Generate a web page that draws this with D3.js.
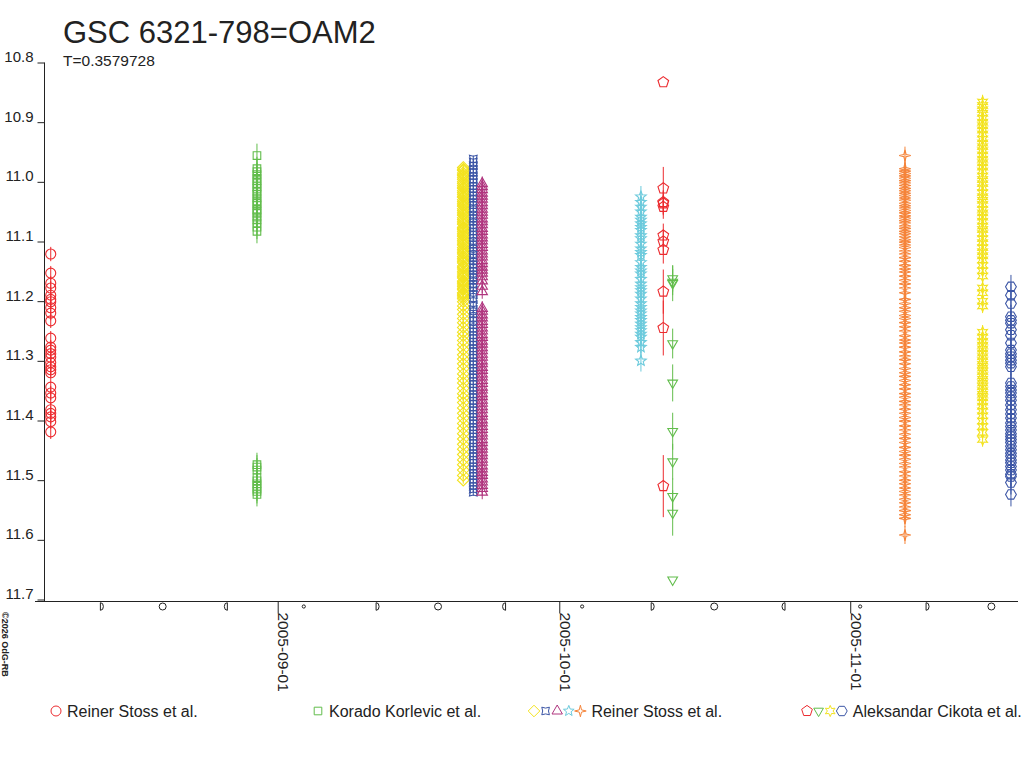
<!DOCTYPE html>
<html>
<head>
<meta charset="utf-8">
<script src="https://cdn.jsdelivr.net/npm/d3@7"></script>
<style>
body { margin: 0; background: #fff; }
text { font-family: "Liberation Sans", Arial, sans-serif; fill: #222; }
</style>
</head>
<body>
<svg width="1024" height="768"></svg>
<script>
// ---- data ----
var yTicks = [10.8, 10.9, 11.0, 11.1, 11.2, 11.3, 11.4, 11.5, 11.6, 11.7];
var xTicks = ["2005-09-01T00:00", "2005-10-01T00:00", "2005-11-01T00:00"];
var xDomain = ["2005-08-07T05:00", "2005-11-18T21:00"];

// moon phases (UT)
var phaseDates = ["2005-08-13T02:38", "2005-08-19T17:53", "2005-08-26T15:18", "2005-09-03T18:45",
    "2005-09-11T11:37", "2005-09-18T02:01", "2005-09-25T06:41", "2005-10-03T10:28",
    "2005-10-10T19:01", "2005-10-17T12:14", "2005-10-25T01:17", "2005-11-02T01:24",
    "2005-11-09T01:57", "2005-11-16T00:57"];
var phaseKinds = ["fq", "full", "lq", "new", "fq", "full", "lq", "new", "fq", "full", "lq", "new", "fq", "full"];

// Reiner Stoss et al. (first night)
var stossAugDate = "2005-08-07T19:40";
var stossAugMag = [11.121, 11.153, 11.170, 11.178, 11.190, 11.197, 11.201, 11.211, 11.220, 11.233,
    11.262, 11.277, 11.282, 11.288, 11.294, 11.303, 11.310, 11.315, 11.320, 11.344, 11.354,
    11.362, 11.382, 11.388, 11.394, 11.402, 11.419];

// Korado Korlevic et al.
var korlevicDate = "2005-08-29T19:00";
var korlevicMag = [10.956, 10.978, 10.983, 10.988, 10.994, 10.998, 11.003, 11.008, 11.011, 11.017,
    11.021, 11.027, 11.032, 11.036, 11.039, 11.046, 11.049, 11.053, 11.059, 11.064, 11.069,
    11.076, 11.083,
    11.474, 11.478, 11.483, 11.496, 11.501, 11.506, 11.510, 11.515, 11.519, 11.524];

// Reiner Stoss et al. (group of nights)
var stossSep20Date = "2005-09-20T18:30";
var stossSep20Mag = [10.976, 10.979, 10.981, 10.985, 10.988, 10.99, 10.993, 10.996, 11.0, 11.003,
    11.006, 11.009, 11.011, 11.015, 11.018, 11.021, 11.024, 11.026, 11.03, 11.033, 11.036, 11.039,
    11.041, 11.045, 11.048, 11.051, 11.054, 11.056, 11.06, 11.063, 11.066, 11.069, 11.071, 11.076,
    11.078, 11.08, 11.083, 11.086, 11.089, 11.091, 11.095, 11.098, 11.101, 11.104, 11.106, 11.11,
    11.113, 11.116, 11.119, 11.121, 11.125, 11.128, 11.131, 11.134, 11.136, 11.141, 11.143, 11.146,
    11.15, 11.153, 11.156, 11.159, 11.161, 11.166, 11.168, 11.17, 11.173, 11.176, 11.179, 11.181,
    11.186, 11.188, 11.19, 11.193, 11.196, 11.201,
    11.208, 11.214, 11.222, 11.229, 11.236, 11.244, 11.252, 11.258, 11.266, 11.273, 11.281, 11.29,
    11.297, 11.305, 11.313, 11.322, 11.33, 11.337, 11.346, 11.355, 11.362, 11.37, 11.379, 11.388,
    11.396, 11.405, 11.413, 11.422, 11.431, 11.44, 11.448, 11.457, 11.466, 11.474, 11.483, 11.492, 11.50];

var stossSep21Date = "2005-09-21T20:10";
var stossSep21Mag = [10.962, 10.967, 10.973, 10.98, 10.984, 10.99, 10.996, 11.001, 11.007, 11.012,
    11.018, 11.023, 11.028, 11.035, 11.039, 11.044, 11.05, 11.057, 11.061, 11.066, 11.073, 11.078,
    11.083, 11.088, 11.094, 11.101, 11.105, 11.11, 11.116, 11.123, 11.127, 11.132, 11.139, 11.144,
    11.149, 11.156, 11.16, 11.165, 11.172, 11.177, 11.182, 11.189, 11.197, 11.206, 11.214, 11.221,
    11.228, 11.233, 11.24, 11.246, 11.251, 11.257, 11.262, 11.268, 11.273, 11.279, 11.284, 11.29,
    11.295, 11.301, 11.306, 11.312, 11.317, 11.323, 11.328, 11.334, 11.339, 11.345, 11.35, 11.356,
    11.361, 11.367, 11.372, 11.378, 11.383, 11.389, 11.394, 11.4, 11.405, 11.411, 11.416, 11.422,
    11.427, 11.433, 11.438, 11.444, 11.449, 11.455, 11.46, 11.466, 11.471, 11.477, 11.482, 11.488,
    11.493, 11.499, 11.504, 11.51, 11.515, 11.52];

var stossSep22Date = "2005-09-22T19:00";
var stossSep22Mag = [11.003, 11.008, 11.013, 11.019, 11.024, 11.029, 11.035, 11.04, 11.046, 11.051,
    11.056, 11.062, 11.067, 11.072, 11.078, 11.083, 11.089, 11.094, 11.099, 11.105, 11.11, 11.116,
    11.121, 11.126, 11.132, 11.137, 11.143, 11.148, 11.153, 11.159, 11.166, 11.175, 11.184,
    11.212, 11.217, 11.223, 11.228, 11.234, 11.239, 11.245, 11.25, 11.256, 11.261, 11.267, 11.272,
    11.278, 11.283, 11.289, 11.294, 11.3, 11.305, 11.311, 11.316, 11.322, 11.327, 11.333, 11.338,
    11.344, 11.349, 11.355, 11.36, 11.366, 11.371, 11.377, 11.382, 11.388, 11.393, 11.399, 11.404,
    11.41, 11.415, 11.421, 11.426, 11.432, 11.437, 11.443, 11.448, 11.454, 11.459, 11.465, 11.47,
    11.476, 11.481, 11.487, 11.492, 11.498, 11.503, 11.509, 11.514, 11.52];

var stossOct09Date = "2005-10-09T16:50";
var stossOct09Mag = [11.025, 11.034, 11.042, 11.05, 11.059, 11.064, 11.07, 11.076, 11.081, 11.09,
    11.095, 11.104, 11.112, 11.118, 11.123, 11.135, 11.143, 11.149, 11.154, 11.163, 11.171, 11.177,
    11.182, 11.188, 11.196, 11.204, 11.21, 11.216, 11.221, 11.227, 11.232, 11.238, 11.244, 11.249,
    11.255, 11.26, 11.269, 11.277, 11.3];

var stossNov06Date = "2005-11-06T20:00";
var stossNov06Mag = [10.956, 10.978, 10.982, 10.986, 10.99, 10.994, 10.998, 11.002, 11.006, 11.011,
    11.015, 11.019, 11.023, 11.027, 11.031, 11.036, 11.04, 11.044, 11.048, 11.052, 11.057, 11.061,
    11.065, 11.069, 11.074, 11.078, 11.083, 11.087, 11.092, 11.097, 11.101, 11.106, 11.11, 11.116,
    11.121, 11.127, 11.133, 11.14, 11.146, 11.151, 11.158, 11.165, 11.171, 11.178, 11.186, 11.197,
    11.204, 11.211, 11.217, 11.224, 11.229, 11.236, 11.243, 11.25, 11.258, 11.265, 11.27, 11.277,
    11.285, 11.292, 11.298, 11.305, 11.313, 11.32, 11.326, 11.333, 11.34, 11.347, 11.355, 11.361,
    11.368, 11.374, 11.381, 11.388, 11.395, 11.401, 11.409, 11.416, 11.423, 11.43, 11.437, 11.445,
    11.452, 11.458, 11.465, 11.472, 11.478, 11.486, 11.493, 11.5, 11.506, 11.513, 11.519, 11.525,
    11.532, 11.538, 11.545, 11.551, 11.558, 11.564, 11.592];

// Aleksandar Cikota et al.
var cikotaOct12Date = "2005-10-12T02:00";
var cikotaOct12Mag = [10.833, 11.011, 11.034, 11.036, 11.042, 11.09, 11.10, 11.114, 11.184, 11.245, 11.51];
var cikotaOct12Err = [0, 0.036, 0.02, 0.02, 0.02, 0.02, 0.02, 0.023, 0.037, 0.046, 0.052];

var cikotaOct13Date = "2005-10-13T02:00";
var cikotaOct13Mag = [11.162, 11.168, 11.17, 11.271, 11.337, 11.418, 11.469, 11.527, 11.555, 11.667];
var cikotaOct13Err = [0.022, 0.022, 0.03, 0.025, 0.031, 0.031, 0.03, 0.03, 0.038, 0];

var cikotaNov15Date = "2005-11-15T02:30";
var cikotaNov15Mag = [10.866, 10.872, 10.879, 10.885, 10.893, 10.9, 10.906, 10.913, 10.92, 10.928,
    10.935, 10.941, 10.948, 10.955, 10.962, 10.968, 10.975, 10.982, 10.99, 10.996, 11.003, 11.01,
    11.018, 11.025, 11.031, 11.038, 11.046, 11.052, 11.059, 11.066, 11.074, 11.08, 11.087, 11.095,
    11.102, 11.11, 11.117, 11.124, 11.131, 11.14, 11.149, 11.158, 11.178, 11.186, 11.2, 11.208,
    11.252, 11.26, 11.267, 11.274, 11.28, 11.287, 11.293, 11.3, 11.306, 11.312, 11.318, 11.325,
    11.331, 11.337, 11.343, 11.35, 11.356, 11.362, 11.369, 11.376, 11.384, 11.392, 11.401, 11.41,
    11.42, 11.432];

var cikotaNov18Date = "2005-11-18T03:00";
var cikotaNov18Mag = [11.176, 11.19, 11.204, 11.226, 11.232, 11.237, 11.248, 11.257, 11.27, 11.282,
    11.288, 11.293, 11.299, 11.304, 11.31, 11.337, 11.343, 11.349, 11.354, 11.36, 11.366, 11.374,
    11.382, 11.389, 11.396, 11.404, 11.41, 11.416, 11.422, 11.427, 11.432, 11.437, 11.443, 11.449,
    11.455, 11.46, 11.466, 11.471, 11.477, 11.483, 11.49, 11.494, 11.504, 11.524];

// ---- colours and marker shapes ----
var red = "#ec2b2f", green = "#62bd4c", yellow = "#f3e31f", blue = "#3c56a6",
    purple = "#b0367f", cyan = "#6ccadc", orange = "#f5843a";

function polygon(n, r, rot) {
    var pts = [];
    for (var i = 0; i < n; i++) {
        var a = rot + i * 2 * Math.PI / n;
        pts.push([(r * Math.sin(a)).toFixed(2), (-r * Math.cos(a)).toFixed(2)]);
    }
    return "M" + pts.join("L") + "Z";
}
function star(n, r1, r2, rot) {
    var pts = [];
    for (var i = 0; i < 2 * n; i++) {
        var a = rot + i * Math.PI / n, r = i % 2 ? r2 : r1;
        pts.push([(r * Math.sin(a)).toFixed(2), (-r * Math.cos(a)).toFixed(2)]);
    }
    return "M" + pts.join("L") + "Z";
}
var shapes = {
    circle: "M5,0A5,5 0 1,1 -5,0A5,5 0 1,1 5,0Z",
    square: "M-3.8,-3.8H3.8V3.8H-3.8Z",
    diamond: polygon(4, 5.8, 0),
    astroid: star(4, 5.4, 2.9, Math.PI / 4),
    triangle: polygon(3, 6, 0),
    star5: star(5, 5.6, 2.4, 0),
    star4: star(4, 5.8, 1.6, 0),
    pentagon: polygon(5, 5.6, 0),
    invtri: polygon(3, 5.6, Math.PI),
    star6: star(6, 5.6, 2.8, 0),
    hexagon: polygon(6, 5.4, Math.PI / 6)
};

var series = [
    {date: stossAugDate, mags: stossAugMag, err: 0.012, color: red, shape: "circle"},
    {date: korlevicDate, mags: korlevicMag, err: 0.02, color: green, shape: "square"},
    {date: stossSep20Date, mags: stossSep20Mag, err: 0.006, color: yellow, shape: "diamond"},
    {date: stossSep21Date, mags: stossSep21Mag, err: 0.006, color: blue, shape: "astroid"},
    {date: stossSep22Date, mags: stossSep22Mag, err: 0.012, color: purple, shape: "triangle"},
    {date: stossOct09Date, mags: stossOct09Mag, err: 0.018, color: cyan, shape: "star5"},
    {date: stossNov06Date, mags: stossNov06Mag, err: 0.015, color: orange, shape: "star4"},
    {date: cikotaOct12Date, mags: cikotaOct12Mag, err: cikotaOct12Err, color: red, shape: "pentagon"},
    {date: cikotaOct13Date, mags: cikotaOct13Mag, err: cikotaOct13Err, color: green, shape: "invtri"},
    {date: cikotaNov15Date, mags: cikotaNov15Mag, err: 0.012, color: yellow, shape: "star6"},
    {date: cikotaNov18Date, mags: cikotaNov18Mag, err: 0.02, color: blue, shape: "hexagon"}
];

var legend = [
    {x: 56, symbols: [["circle", red]], label: "Reiner Stoss et al."},
    {x: 318, symbols: [["square", green]], label: "Korado Korlevic et al."},
    {x: 534, symbols: [["diamond", yellow], ["astroid", blue], ["triangle", purple], ["star5", cyan], ["star4", orange]], label: "Reiner Stoss et al."},
    {x: 807, symbols: [["pentagon", red], ["invtri", green], ["star6", yellow], ["hexagon", blue]], label: "Aleksandar Cikota et al."}
];

// ---- chart ----
var svg = d3.select("svg");
var parseT = d3.utcParse("%Y-%m-%dT%H:%M");
var axisY = 601.5, axisX = 44.5;

var x = d3.scaleUtc()
    .domain(xDomain.map(parseT))
    .range([45, 1018]);
var y = d3.scaleLinear()
    .domain([10.8, 11.7])
    .range([62.5, 599.5]);

// title
svg.append("text").attr("x", 63).attr("y", 42.5)
    .style("font-size", "31px").text("GSC 6321-798=OAM2");
svg.append("text").attr("x", 63).attr("y", 66)
    .style("font-size", "15.5px").text("T=0.3579728");

// y axis
var gy = svg.append("g").attr("transform", "translate(" + axisX + ",0)")
    .call(d3.axisLeft(y).tickValues(yTicks).tickFormat(d3.format(".1f"))
        .tickSize(7).tickSizeOuter(0).tickPadding(4));
gy.select(".domain").remove();
gy.selectAll("text").attr("dy", -1).style("font-size", "15px").style("fill", "#222");
gy.selectAll("line").attr("stroke", "#222");
svg.append("line").attr("x1", axisX).attr("x2", axisX)
    .attr("y1", y(10.8)).attr("y2", axisY).attr("stroke", "#222");

// x axis
var gx = svg.append("g").attr("transform", "translate(0," + axisY + ")")
    .call(d3.axisBottom(x).tickValues(xTicks.map(parseT))
        .tickFormat(d3.utcFormat("%Y-%m-%d")).tickSize(12).tickSizeOuter(0));
gx.select(".domain").remove();
gx.selectAll("line").attr("stroke", "#222");
gx.selectAll("text")
    .attr("transform", "rotate(90)")
    .attr("x", 11).attr("y", 0).attr("dy", 0)
    .style("text-anchor", "start").style("font-size", "15.5px").style("fill", "#222");
svg.append("line").attr("x1", 35).attr("x2", 1018)
    .attr("y1", axisY).attr("y2", axisY).attr("stroke", "#222");

// moon phases under the axis
var moonPath = {
    fq: "M0,-3.8V3.8A3,3.8 0 0,0 0,-3.8Z",
    lq: "M0,-3.8V3.8A3,3.8 0 0,1 0,-3.8Z",
    full: "M3.5,0A3.5,3.5 0 1,1 -3.5,0A3.5,3.5 0 1,1 3.5,0Z",
    "new": "M1.6,0A1.6,1.6 0 1,1 -1.6,0A1.6,1.6 0 1,1 1.6,0Z"
};
svg.append("g").selectAll("path")
    .data(phaseDates)
    .join("path")
    .attr("transform", function(d) { return "translate(" + x(parseT(d)) + ",606.5)"; })
    .attr("d", function(d, i) { return moonPath[phaseKinds[i]]; })
    .attr("fill", "none").attr("stroke", "#222").attr("stroke-width", 1);

// copyright
svg.append("text").attr("transform", "translate(2,612) rotate(90)")
    .style("font-size", "9px").style("font-weight", "bold").text("©2026 OdG-RB");

// observations
var plot = svg.append("g");
series.forEach(function(s) {
    var cx = x(parseT(s.date));
    var gs = plot.append("g");
    gs.selectAll("line")
        .data(s.mags)
        .join("line")
        .attr("x1", cx).attr("x2", cx)
        .attr("y1", function(d, i) { return y(d - (Array.isArray(s.err) ? s.err[i] : s.err)); })
        .attr("y2", function(d, i) { return y(d + (Array.isArray(s.err) ? s.err[i] : s.err)); })
        .attr("stroke", s.color).attr("stroke-width", 1);
    gs.selectAll("path")
        .data(s.mags)
        .join("path")
        .attr("transform", function(d) { return "translate(" + cx + "," + y(d) + ")"; })
        .attr("d", shapes[s.shape])
        .attr("fill", "none").attr("stroke", s.color).attr("stroke-width", 1.1);
});

// legend
var lg = svg.append("g");
legend.forEach(function(item) {
    item.symbols.forEach(function(sym, i) {
        lg.append("path")
            .attr("transform", "translate(" + (item.x + i * 11.6) + ",711)")
            .attr("d", shapes[sym[0]])
            .attr("fill", "none").attr("stroke", sym[1]);
    });
    lg.append("text")
        .attr("x", item.x + (item.symbols.length - 1) * 11.6 + 11)
        .attr("y", 717)
        .style("font-size", "16px")
        .text(item.label);
});
</script>
</body>
</html>
